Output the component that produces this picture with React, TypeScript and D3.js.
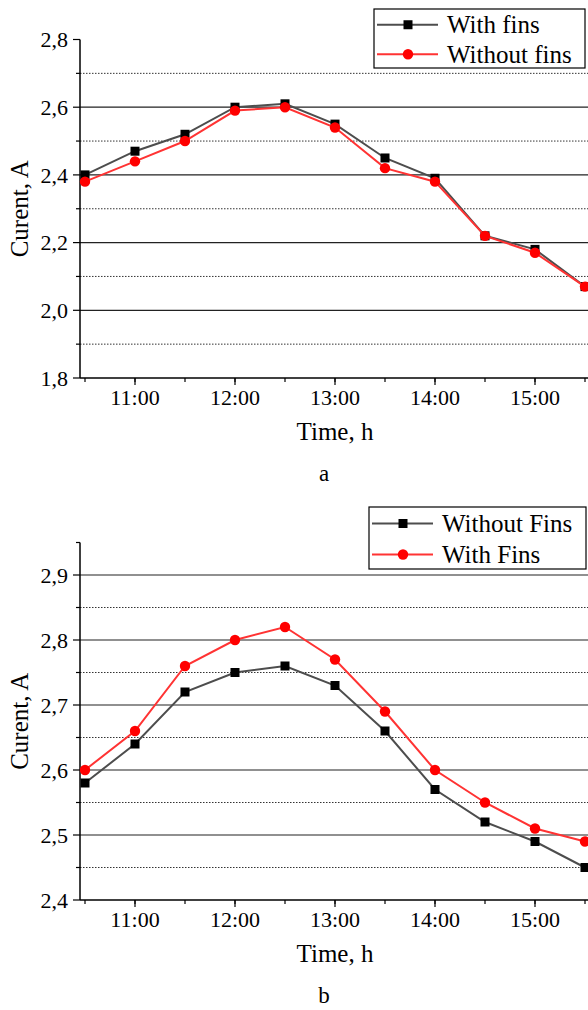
import React, { useEffect, useRef } from 'react';
import * as d3 from 'd3';

// Time points (every half hour)
const times = ['10:30', '11:00', '11:30', '12:00', '12:30', '13:00', '13:30', '14:00', '14:30', '15:00', '15:30'];
const xTickLabels = ['11:00', '12:00', '13:00', '14:00', '15:00'];

// Panel a
const aWithFins = [2.40, 2.47, 2.52, 2.60, 2.61, 2.55, 2.45, 2.39, 2.22, 2.18, 2.07];
const aWithoutFins = [2.38, 2.44, 2.50, 2.59, 2.60, 2.54, 2.42, 2.38, 2.22, 2.17, 2.07];
const aYTicks = [1.8, 2.0, 2.2, 2.4, 2.6, 2.8];
const aYMinor = [1.9, 2.1, 2.3, 2.5, 2.7];

// Panel b
const bWithoutFins = [2.58, 2.64, 2.72, 2.75, 2.76, 2.73, 2.66, 2.57, 2.52, 2.49, 2.45];
const bWithFins = [2.60, 2.66, 2.76, 2.80, 2.82, 2.77, 2.69, 2.60, 2.55, 2.51, 2.49];
const bYTicks = [2.4, 2.5, 2.6, 2.7, 2.8, 2.9];
const bYMinor = [2.45, 2.55, 2.65, 2.75, 2.85, 2.95];

const toHours = (t: string) => {
  const [h, m] = t.split(':').map(Number);
  return h + m / 60;
};

const FONT = "'Liberation Serif', Tinos, 'Times New Roman', Times, 'DejaVu Serif', serif";
const GRAY = '#4d4d4d';
const RED = '#ff3333';

const panels = [
  {
    letter: 'a',
    top: 39.5,
    bottom: 378,
    yDomain: [1.8, 2.8],
    yTicks: aYTicks,
    yMinor: aYMinor,
    series: [
      { name: 'With fins', values: aWithFins, color: GRAY, marker: 'square' },
      { name: 'Without fins', values: aWithoutFins, color: RED, marker: 'circle' },
    ],
    legend: { x: 374, y: 9, w: 211, h: 59 },
  },
  {
    letter: 'b',
    top: 542.5,
    bottom: 900,
    yDomain: [2.4, 2.95],
    yTicks: bYTicks,
    yMinor: bYMinor,
    series: [
      { name: 'Without Fins', values: bWithoutFins, color: GRAY, marker: 'square' },
      { name: 'With Fins', values: bWithFins, color: RED, marker: 'circle' },
    ],
    legend: { x: 369, y: 507, w: 217, h: 62 },
  },
];

const App = () => {
  const svgRef = useRef<SVGSVGElement>(null);

  useEffect(() => {
    const svg = d3.select(svgRef.current);
    svg.selectAll('*').remove();

    const left = 80;
    const xScale = d3.scaleLinear().domain([10.45, 15.55]).range([left, 590]);
    const fmt = (v: number) => d3.format('.1f')(v).replace('.', ',');

    panels.forEach(p => {
      const y = d3.scaleLinear().domain(p.yDomain).range([p.bottom, p.top]);
      const g = svg.append('g').attr('font-family', FONT);
      const [lo, hi] = p.yDomain;

      // grid lines (not on the domain ends)
      p.yTicks.filter(v => v > lo + 1e-9 && v < hi - 1e-9).forEach(v => {
        g.append('line')
          .attr('x1', left).attr('x2', 588)
          .attr('y1', y(v)).attr('y2', y(v))
          .attr('stroke', '#222').attr('stroke-width', 1.2);
      });
      p.yMinor.filter(v => v > lo + 1e-9 && v < hi - 1e-9).forEach(v => {
        g.append('line')
          .attr('x1', left).attr('x2', 588)
          .attr('y1', y(v)).attr('y2', y(v))
          .attr('stroke', '#333').attr('stroke-width', 1)
          .attr('stroke-dasharray', '1.5,1.5');
      });

      // y axis
      g.append('line')
        .attr('x1', left).attr('x2', left)
        .attr('y1', p.top).attr('y2', p.bottom)
        .attr('stroke', '#000').attr('stroke-width', 1.5);
      p.yTicks.forEach(v => {
        g.append('line')
          .attr('x1', left - 7).attr('x2', left)
          .attr('y1', y(v)).attr('y2', y(v))
          .attr('stroke', '#000').attr('stroke-width', 1.2);
        g.append('text')
          .attr('x', left - 12).attr('y', y(v)).attr('dy', '0.35em')
          .attr('text-anchor', 'end')
          .attr('font-size', 22)
          .text(fmt(v));
      });
      p.yMinor.forEach(v => {
        g.append('line')
          .attr('x1', left - 4).attr('x2', left)
          .attr('y1', y(v)).attr('y2', y(v))
          .attr('stroke', '#000').attr('stroke-width', 1.2);
      });

      // x axis
      g.append('line')
        .attr('x1', left).attr('x2', 588)
        .attr('y1', p.bottom).attr('y2', p.bottom)
        .attr('stroke', '#000').attr('stroke-width', 1.5);
      times.forEach(t => {
        g.append('line')
          .attr('x1', xScale(toHours(t))).attr('x2', xScale(toHours(t)))
          .attr('y1', p.bottom).attr('y2', p.bottom + 4)
          .attr('stroke', '#000').attr('stroke-width', 1.2);
      });
      xTickLabels.forEach(t => {
        g.append('line')
          .attr('x1', xScale(toHours(t))).attr('x2', xScale(toHours(t)))
          .attr('y1', p.bottom).attr('y2', p.bottom + 7)
          .attr('stroke', '#000').attr('stroke-width', 1.2);
        g.append('text')
          .attr('x', xScale(toHours(t))).attr('y', p.bottom + 27)
          .attr('text-anchor', 'middle')
          .attr('font-size', 22)
          .text(t);
      });

      // axis titles
      g.append('text')
        .attr('x', 335).attr('y', p.bottom + 62)
        .attr('text-anchor', 'middle')
        .attr('font-size', 25)
        .text('Time, h');
      g.append('text')
        .attr('transform', `translate(28, ${(p.top + p.bottom) / 2}) rotate(-90)`)
        .attr('text-anchor', 'middle')
        .attr('font-size', 25)
        .text('Curent, A');
      g.append('text')
        .attr('x', 324).attr('y', p.bottom + 103)
        .attr('text-anchor', 'middle')
        .attr('font-size', 23)
        .text(p.letter);

      // series
      const line = d3.line<number>()
        .x((_, i) => xScale(toHours(times[i])))
        .y(d => y(d));

      const drawMarker = (sel: any, cx: number, cy: number, s: any) => {
        if (s.marker === 'square') {
          sel.append('rect')
            .attr('x', cx - 4.5).attr('y', cy - 4.5)
            .attr('width', 9).attr('height', 9)
            .attr('fill', '#000');
        } else {
          sel.append('circle')
            .attr('cx', cx).attr('cy', cy).attr('r', 5.2)
            .attr('fill', '#ff0000');
        }
      };

      p.series.forEach(s => {
        g.append('path')
          .datum(s.values)
          .attr('fill', 'none')
          .attr('stroke', s.color)
          .attr('stroke-width', 2)
          .attr('d', line);
        s.values.forEach((v, i) => drawMarker(g, xScale(toHours(times[i])), y(v), s));
      });

      // legend
      const L = p.legend;
      g.append('rect')
        .attr('x', L.x).attr('y', L.y)
        .attr('width', L.w).attr('height', L.h)
        .attr('fill', '#fff').attr('stroke', '#000').attr('stroke-width', 1.2);
      const rowH = L.h / 2;
      p.series.forEach((s, i) => {
        const cy = L.y + rowH * i + rowH / 2 + 1;
        g.append('line')
          .attr('x1', L.x + 3).attr('x2', L.x + 64)
          .attr('y1', cy).attr('y2', cy)
          .attr('stroke', s.color).attr('stroke-width', 2);
        drawMarker(g, L.x + 34, cy, s);
        g.append('text')
          .attr('x', L.x + 73).attr('y', cy).attr('dy', '0.33em')
          .attr('font-size', 25)
          .text(s.name);
      });
    });
  }, []);

  return (
    <div style={{ position: 'absolute', left: 0, top: 0 }}>
      <svg ref={svgRef} width={588} height={1010} style={{ display: 'block', background: '#fff' }} />
    </div>
  );
};

export default App;
